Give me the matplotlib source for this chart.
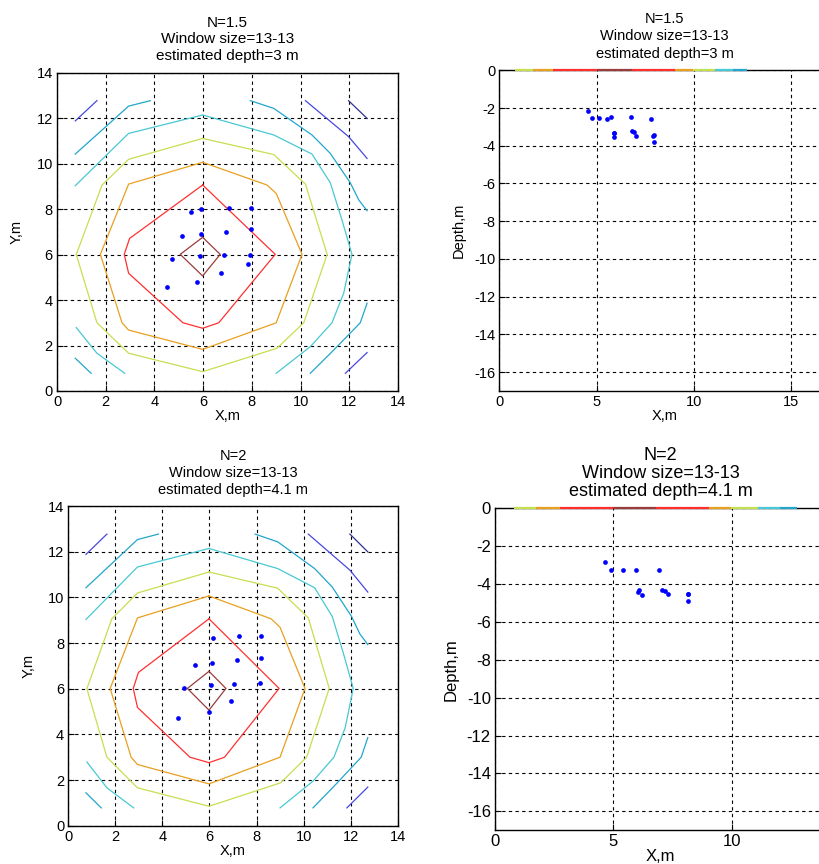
import matplotlib
matplotlib.use('Agg')
import matplotlib.pyplot as plt

plt.rcParams['font.family'] = ['Liberation Sans', 'DejaVu Sans']
plt.rcParams['axes.unicode_minus'] = False

# scatter points, plan view + depth (N=1.5)
x1 = [4.52, 4.73, 5.12, 5.50, 5.76, 5.87, 5.91, 5.92, 6.73, 6.84, 6.95, 7.06, 7.84, 7.94, 7.96, 7.96]
y1 = [4.59, 5.82, 6.82, 7.88, 4.81, 5.94, 6.92, 8.00, 5.19, 5.98, 7.01, 8.03, 5.58, 5.98, 7.11, 8.03]
xd1 = [4.58, 4.77, 5.11, 5.52, 5.76, 5.88, 5.92, 5.92, 6.76, 6.83, 6.93, 7.02, 7.82, 7.91, 7.94, 7.94]
d1 = [-2.16, -2.51, -2.51, -2.56, -2.49, -3.30, -3.52, -3.35, -2.49, -3.22, -3.25, -3.50, -2.56, -3.50, -3.45, -3.80]

# scatter points (N=2)
x2 = [4.66, 4.90, 5.37, 5.97, 6.06, 6.12, 6.16, 6.93, 7.04, 7.18, 7.27, 8.16, 8.20, 8.20]
y2 = [4.73, 6.05, 7.02, 4.99, 6.15, 7.11, 8.23, 5.46, 6.21, 7.26, 8.29, 6.26, 7.36, 8.29]
xd2 = [4.63, 4.89, 5.41, 5.96, 6.05, 6.08, 6.21, 6.94, 7.06, 7.17, 7.30, 8.17, 8.17, 8.17]
d2 = [-2.85, -3.26, -3.26, -3.26, -4.40, -4.33, -4.56, -3.26, -4.33, -4.36, -4.54, -4.54, -4.91, -4.54]

# contour lines
brown_x = [5.98, 6.70, 5.98, 5.06, 5.98]
brown_y = [6.76, 6.01, 5.06, 6.01, 6.76]
red_x = [5.98, 8.96, 6.64, 5.98, 5.17, 2.94, 2.76, 2.98, 5.98]
red_y = [9.06, 6.01, 3.00, 2.76, 3.00, 5.18, 6.01, 6.71, 9.06]
orange_x = [5.98, 8.62, 9.00, 10.06, 9.00, 5.98, 2.94, 2.67, 1.78, 2.94, 5.98]
orange_y = [10.06, 9.06, 8.69, 6.01, 3.00, 1.83, 2.68, 3.00, 6.01, 9.10, 10.06]
yellow_x = [5.98, 8.90, 10.20, 11.09, 10.13, 9.03, 5.98, 2.94, 1.64, 0.79, 1.85, 2.94, 5.98]
yellow_y = [11.11, 10.40, 9.10, 6.01, 3.00, 1.88, 0.85, 1.66, 3.00, 6.00, 9.06, 10.19, 11.11]
cyan2_x = [0.75, 2.94, 5.98, 8.90, 10.47, 11.22, 11.70, 12.11, 11.77, 11.29, 10.40, 9.00]
cyan2_y = [9.03, 11.33, 12.14, 11.26, 10.42, 9.16, 7.52, 6.01, 4.30, 3.00, 1.95, 0.78]
cyan2b_x = [0.79, 1.64, 2.78]
cyan2b_y = [2.79, 1.66, 0.78]
cyan1a_x = [0.75, 2.94, 3.83]
cyan1a_y = [10.42, 12.53, 12.77]
cyan1b_x = [7.94, 8.90, 10.47, 11.22, 12.04, 12.39, 12.73]
cyan1b_y = [12.77, 12.43, 11.26, 10.45, 9.16, 8.40, 7.93]
cyan1c_x = [12.73, 12.45, 11.36, 10.40]
cyan1c_y = [3.86, 3.00, 1.80, 0.78]
cyan1d_x = [0.75, 1.40]
cyan1d_y = [1.44, 0.78]
blue_a_x = [0.75, 1.64]
blue_a_y = [11.88, 12.77]
blue_b_x = [10.20, 11.97, 12.73]
blue_b_y = [12.77, 11.19, 10.23]
blue_c_x = [11.84, 12.73]
blue_c_y = [0.78, 1.69]
navy_x = [11.97, 12.73]
navy_y = [12.77, 11.99]

# contour seen edge-on along depth = 0
strip_start = [0.81, 1.75, 2.75, 5.00, 6.81, 9.04, 9.98, 11.10, 12.04]
strip_end = [1.75, 2.75, 5.00, 6.81, 9.04, 9.98, 11.10, 12.04, 12.76]

c_brown = '#9A3C3C'
c_red = '#FF3030'
c_orange = '#E8A020'
c_yellow = '#C4E050'
c_cyan2 = '#48C8D4'
c_cyan1 = '#22A6CC'
c_blue = '#4848E0'
c_navy = '#303090'
strip_colors = [c_yellow, c_orange, c_red, c_brown, c_red, c_orange, c_yellow, c_cyan2, c_cyan1]

lines = [
    (brown_x, brown_y, c_brown), (red_x, red_y, c_red), (orange_x, orange_y, c_orange),
    (yellow_x, yellow_y, c_yellow), (cyan2_x, cyan2_y, c_cyan2), (cyan2b_x, cyan2b_y, c_cyan2),
    (cyan1a_x, cyan1a_y, c_cyan1), (cyan1b_x, cyan1b_y, c_cyan1), (cyan1c_x, cyan1c_y, c_cyan1),
    (cyan1d_x, cyan1d_y, c_cyan1), (blue_a_x, blue_a_y, c_blue), (blue_b_x, blue_b_y, c_blue),
    (blue_c_x, blue_c_y, c_blue), (navy_x, navy_y, c_navy),
]

grid_kw = dict(color='black', linestyle=(0, (3, 3)), linewidth=0.8)


def style(ax, fs):
    ax.grid(True, **grid_kw)
    ax.set_axisbelow(True)
    ax.tick_params(direction='in', length=4, labelsize=fs, pad=3)
    for s in ax.spines.values():
        s.set_linewidth(1.0)


def plan(ax, px, py, title, fs, tfs):
    for lx, ly, c in lines:
        ax.plot(lx, ly, color=c, lw=0.9, zorder=3)
    ax.plot(px, py, 'o', color='blue', ms=3.4, mec='none', zorder=4)
    ax.set_xlim(0, 14)
    ax.set_ylim(0, 14)
    ax.set_xticks(range(0, 15, 2))
    ax.set_yticks(range(0, 15, 2))
    style(ax, fs)
    ax.set_xlabel('X,m', fontsize=fs, labelpad=0)
    ax.set_ylabel('Y,m', fontsize=fs, labelpad=9)
    ax.set_title(title, fontsize=tfs, linespacing=1.25, pad=9)


def side(ax, px, pd, title, fs, tfs, xmax, xt, ls):
    ax.plot(px, pd, 'o', color='blue', ms=3.4, mec='none', zorder=4)
    ax.hlines([0] * len(strip_start), strip_start, strip_end, colors=strip_colors,
              lw=1.6, zorder=5, clip_on=False)
    ax.set_xlim(0, xmax)
    ax.set_ylim(-17, 0)
    ax.set_xticks(xt)
    ax.set_yticks(range(-16, 1, 2))
    style(ax, fs)
    ax.set_xlabel('X,m', fontsize=fs, labelpad=0)
    ax.set_ylabel('Depth,m', fontsize=fs, labelpad=6)
    ax.set_title(title, fontsize=tfs, linespacing=ls, pad=9)


fig = plt.figure(figsize=(8.19, 8.64), dpi=100)

ax1 = fig.add_axes([57 / 819, 1 - 391 / 864, 341 / 819, 318.3 / 864])
plan(ax1, x1, y1, 'N=1.5\nWindow size=13-13\nestimated depth=3 m', 10.5, 11)

ax2 = fig.add_axes([499.3 / 819, 1 - 391 / 864, 17 * 19.44 / 819, 320.7 / 864])
side(ax2, xd1, d1, 'N=1.5\nWindow size=13-13\nestimated depth=3 m', 10.5, 10.5, 17, [0, 5, 10, 15], 1.3)

ax3 = fig.add_axes([68.3 / 819, 1 - 825.7 / 864, 329.4 / 819, 319.7 / 864])
plan(ax3, x2, y2, 'N=2\nWindow size=13-13\nestimated depth=4.1 m', 10.5, 10.5)

ax4 = fig.add_axes([495 / 819, 1 - 830.3 / 864, 14 * 23.67 / 819, 322 / 864])
side(ax4, xd2, d2, 'N=2\nWindow size=13-13\nestimated depth=4.1 m', 12, 13, 14, [0, 5, 10], 1.05)

fig.savefig('out.png', dpi=100)
